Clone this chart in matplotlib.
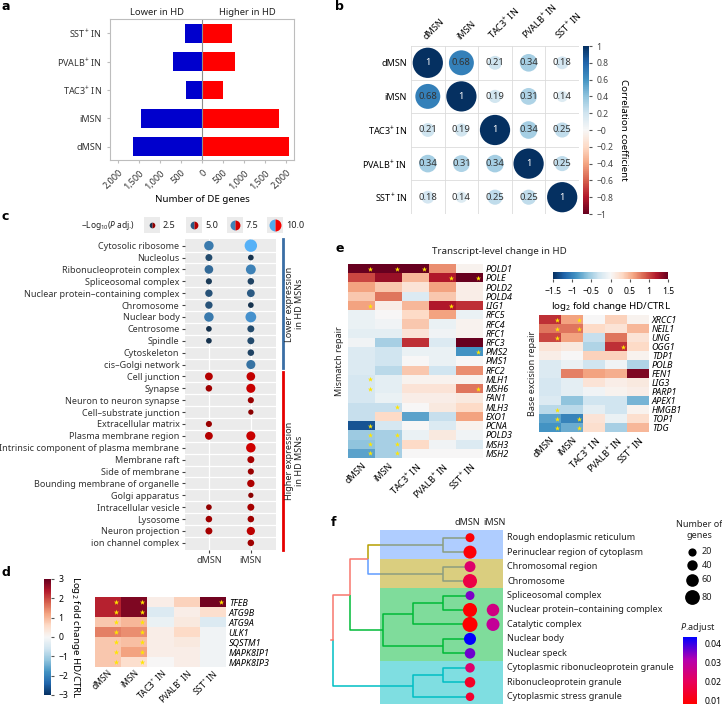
import numpy as np
import matplotlib
matplotlib.use("Agg")
import matplotlib.pyplot as plt
import matplotlib.cm as cm
import matplotlib.transforms as mtransforms
from matplotlib.patches import Circle, Rectangle
from matplotlib.colors import LinearSegmentedColormap, Normalize

plt.rcParams['font.family'] = ['Noto Sans', 'DejaVu Sans']
plt.rcParams['mathtext.fontset'] = 'custom'
plt.rcParams['mathtext.rm'] = 'Noto Sans'
plt.rcParams['mathtext.it'] = 'Noto Sans:italic'
plt.rcParams['font.size'] = 6.5
plt.rcParams['text.color'] = '#222222'
FS = 6.5

# ---------------- data ----------------
cell_types = ["dMSN", "iMSN", "TAC3$^{+}$ IN", "PVALB$^{+}$ IN", "SST$^{+}$ IN"]

# a: number of DE genes
de_lower = [1640, 1460, 380, 690, 400]
de_higher = [2060, 1840, 510, 790, 710]

# b: correlation matrix
corr = np.array([[1.00, 0.68, 0.21, 0.34, 0.18],
                 [0.68, 1.00, 0.19, 0.31, 0.14],
                 [0.21, 0.19, 1.00, 0.34, 0.25],
                 [0.34, 0.31, 0.34, 1.00, 0.25],
                 [0.18, 0.14, 0.25, 0.25, 1.00]])

# c: GO terms, -log10 adj P (nan = not enriched)
go_terms = ["Cytosolic ribosome", "Nucleolus", "Ribonucleoprotein complex", "Spliceosomal complex",
            "Nuclear protein\u2013containing complex", "Chromosome", "Nuclear body", "Centrosome",
            "Spindle", "Cytoskeleton", "cis\u2013Golgi network",
            "Cell junction", "Synapse", "Neuron to neuron synapse", "Cell\u2013substrate junction",
            "Extracellular matrix", "Plasma membrane region", "Intrinsic component of plasma membrane",
            "Membrane raft", "Side of membrane", "Bounding membrane of organelle", "Golgi apparatus",
            "Intracellular vesicle", "Lysosome", "Neuron projection", "ion channel complex"]
n_lower = 11
nan = np.nan
logp_dmsn = [7.0, 4.0, 6.0, 3.0, 4.5, 4.5, 7.0, 2.5, 2.5, nan, nan,
             5.0, 3.5, nan, nan, 3.0, 5.0, nan, nan, nan, nan, nan, 2.5, 3.5, 4.0, nan]
logp_imsn = [10.5, 2.5, 7.5, 3.5, 5.0, 2.5, 8.5, 4.0, 4.0, 3.5, 6.5,
             6.0, 6.5, 3.0, 2.0, nan, 6.5, 7.0, 4.0, 3.0, 4.5, 2.0, 4.0, 3.5, 5.5, 3.5]
legend_logp = [2.5, 5.0, 7.5, 10.0]

# d: autophagy genes log2FC
genes_d = ["TFEB", "ATG9B", "ATG9A", "ULK1", "SQSTM1", "MAPK8IP1", "MAPK8IP3"]
lfc_d = np.array([[2.3, 2.8, 0.2, 0.7, 2.9],
                  [2.3, 2.8, -0.4, 0.2, 0.5],
                  [0.8, 1.0, -0.2, 0.3, -0.4],
                  [1.5, 1.4, 0.2, 0.6, -0.1],
                  [0.8, 0.9, 0.2, 0.3, -0.1],
                  [0.8, 1.2, 0.2, 0.2, -0.1],
                  [0.8, 0.5, 0.0, 0.2, -0.1]])
sig_d = np.array([[1, 1, 0, 0, 1]] + [[1, 1, 0, 0, 0]] * 6)

# e: mismatch repair
genes_mmr = ["POLD1", "POLE", "POLD2", "POLD4", "LIG1", "RFC5", "RFC4", "RFC1", "RFC3", "PMS2", "PMS1",
             "RFC2", "MLH1", "MSH6", "FAN1", "MLH3", "EXO1", "PCNA", "POLD3", "MSH3", "MSH2"]
lfc_mmr = np.array([[1.5, 1.5, 1.5, 0.7, 0.05],
                    [1.0, 1.3, 0.5, 1.2, 1.6],
                    [0.6, 0.4, 0.2, 0.6, 0.1],
                    [0.4, 0.8, -0.2, 0.4, 0.1],
                    [0.6, 0.1, 0.5, 1.2, 1.1],
                    [-0.1, 0.0, 0.3, 0.6, -0.1],
                    [-0.1, -0.05, 0.4, -0.1, 0.05],
                    [-0.15, -0.15, 0.2, -0.05, 0.05],
                    [-0.05, -0.5, 1.1, -0.2, 1.6],
                    [-0.2, -0.3, -0.1, -0.1, -0.9],
                    [-0.2, -0.3, 0.0, -0.1, 0.0],
                    [-0.2, -0.4, 0.4, -0.3, 0.7],
                    [-0.25, -0.15, 0.05, 0.05, 0.05],
                    [-0.25, -0.15, 0.2, 0.2, 0.8],
                    [-0.25, -0.1, 0.1, 0.1, 0.15],
                    [-0.35, -0.35, 0.0, 0.15, 0.3],
                    [-0.35, 0.3, -0.8, -0.35, 0.6],
                    [-1.3, -0.25, 0.0, -0.2, 0.05],
                    [-0.55, -0.5, -0.1, 0.15, -0.05],
                    [-0.6, -0.5, 0.3, -0.05, -0.2],
                    [-0.8, -0.5, 0.0, 0.0, 0.0]])
sig_mmr = np.array([[1, 1, 1, 0, 0], [0, 0, 0, 1, 1], [0, 0, 0, 0, 0], [0, 0, 0, 0, 0],
                    [1, 0, 0, 1, 0], [0, 0, 0, 0, 0], [0, 0, 0, 0, 0], [0, 0, 0, 0, 0],
                    [0, 0, 0, 0, 0], [0, 0, 0, 0, 1], [0, 0, 0, 0, 0], [0, 0, 0, 0, 0],
                    [1, 0, 0, 0, 0], [1, 0, 0, 0, 1], [0, 0, 0, 0, 0], [0, 1, 0, 0, 0],
                    [0, 0, 0, 0, 0], [1, 0, 0, 0, 0], [1, 1, 0, 0, 0], [1, 1, 0, 0, 0],
                    [1, 1, 0, 0, 0]])

# e: base excision repair
genes_ber = ["XRCC1", "NEIL1", "UNG", "OGG1", "TDP1", "POLB", "FEN1", "LIG3", "PARP1", "APEX1",
             "HMGB1", "TOP1", "TDG"]
lfc_ber = np.array([[1.1, 0.6, 0.0, 0.35, 0.05],
                    [0.8, 0.8, 0.3, 0.2, 0.5],
                    [1.0, 0.6, -0.35, 0.8, 0.2],
                    [0.2, 0.15, -0.45, 1.1, 0.3],
                    [0.1, 0.0, 0.35, 0.35, 0.05],
                    [-0.2, -0.1, -0.3, -0.05, -0.45],
                    [-0.2, 0.75, 0.6, 0.55, 1.4],
                    [-0.25, -0.15, 0.2, 0.1, 0.15],
                    [-0.25, -0.15, -0.05, 0.05, 0.1],
                    [-0.2, -0.6, -0.3, -0.3, -0.7],
                    [-0.4, -0.4, -0.15, -0.3, 0.05],
                    [-0.8, -1.0, 0.2, -0.1, 0.25],
                    [-0.9, -0.75, 0.25, -0.5, 0.5]])
sig_ber = np.array([[1, 1, 0, 0, 0], [1, 1, 0, 0, 0], [1, 0, 0, 0, 0], [0, 0, 0, 1, 0],
                    [0, 0, 0, 0, 0], [0, 0, 0, 0, 0], [0, 0, 0, 0, 0], [0, 0, 0, 0, 0],
                    [0, 0, 0, 0, 0], [0, 0, 0, 0, 0], [1, 0, 0, 0, 0], [1, 1, 0, 0, 0],
                    [1, 1, 0, 0, 0]])

# f: GO terms clustered
terms_f = ["Rough endoplasmic reticulum", "Perinuclear region of cytoplasm", "Chromosomal region",
           "Chromosome", "Spliceosomal complex", "Nuclear protein\u2013containing complex",
           "Catalytic complex", "Nuclear body", "Nuclear speck",
           "Cytoplasmic ribonucleoprotein granule", "Ribonucleoprotein granule",
           "Cytoplasmic stress granule"]
count_dmsn = [27, 64, 45, 73, 27, 73, 82, 55, 41, 32, 41, 23]
padj_dmsn = [0.009, 0.009, 0.022, 0.017, 0.035, 0.008, 0.008, 0.043, 0.036, 0.022, 0.013, 0.014]
count_imsn = [nan, nan, nan, nan, nan, 59, 64, nan, nan, nan, nan, nan]
padj_imsn = [nan, nan, nan, nan, nan, 0.025, 0.028, nan, nan, nan, nan, nan]
legend_counts = [20, 40, 60, 80]
# tree merges: (child a, child b, height); leaves 0..11, merges numbered from 12
merges = [(0, 1, 27), (2, 3, 27), (12, 13, 102), (4, 5, 27), (15, 6, 57), (7, 8, 27),
          (16, 17, 87), (14, 18, 120), (9, 10, 27), (20, 11, 57), (19, 21, 137)]
cluster_of_leaf = [0, 0, 1, 1, 2, 2, 2, 2, 2, 3, 3, 3]
cluster_colors = ['#B79F00', '#619CFF', '#00BA38', '#00BFC4']
band_colors = ['#619CFF', '#B79F00', '#00BA38', '#00BFC4']
root_color = '#F8766D'

# ---------------- figure ----------------
W, H = 722, 706
fig = plt.figure(figsize=(W / 100, H / 100), dpi=100)


def px_axes(x0, y0, x1, y1, **kw):
    return fig.add_axes([x0 / W, 1 - y1 / H, (x1 - x0) / W, (y1 - y0) / H], **kw)


def clean(ax):
    for s in ax.spines.values():
        s.set_visible(False)


# ---- a ----
ax = px_axes(110, 19, 294, 160)
y = np.arange(len(cell_types))
ax.barh(y, -np.array(de_lower), height=0.66, color='#0000CD')
ax.barh(y, de_higher, height=0.66, color='#FF0000')
ax.axvline(0, color='#8c8c8c', lw=0.8)
ax.set_xlim(-2190, 2190)
ax.set_ylim(-0.47, 4.5)
ticks = np.arange(-2000, 2001, 500)
ax.set_xticks(ticks)
ax.set_xticklabels([f"{abs(t):,}" for t in ticks], rotation=45, ha='right', va='top',
                   rotation_mode='anchor', fontsize=FS)
ax.set_yticks(y)
ax.set_yticklabels(cell_types, fontsize=FS)
for s in ax.spines.values():
    s.set_color('#bdbdbd')
ax.tick_params(color='#bdbdbd', length=2.5, labelcolor='#333333')
ax.set_xlabel("Number of DE genes", fontsize=FS + 0.5, labelpad=3)
ax.text(-1070, 1.015, "Lower in HD", transform=ax.get_xaxis_transform(), ha='center', va='bottom', fontsize=FS + 0.3)
ax.text(1070, 1.015, "Higher in HD", transform=ax.get_xaxis_transform(), ha='center', va='bottom', fontsize=FS + 0.3)

# ---- b ----
axb = px_axes(411, 46, 579, 214)
cmap_b = plt.get_cmap('RdBu')
norm_b = Normalize(-1, 1)
axb.set_xlim(-0.5, 4.5)
axb.set_ylim(4.5, -0.5)
for k in np.arange(-0.5, 5):
    axb.axhline(k, color='#dcdcdc', lw=0.6, zorder=0)
    axb.axvline(k, color='#dcdcdc', lw=0.6, zorder=0)
for i in range(5):
    for j in range(5):
        r = corr[i, j]
        axb.add_patch(Circle((j, i), 0.45 * np.sqrt(abs(r)), facecolor=cmap_b(norm_b(r)), lw=0, zorder=2))
        axb.text(j, i, f"{r:g}", ha='center', va='center', fontsize=6.8,
                 color='white' if r > 0.9 else '#333333', zorder=3)
axb.set_xticks(range(5))
axb.set_yticks(range(5))
axb.xaxis.tick_top()
axb.set_xticklabels(cell_types, rotation=45, ha='left', va='bottom', rotation_mode='anchor', fontsize=FS)
axb.set_yticklabels(cell_types, fontsize=FS)
axb.tick_params(length=0, pad=3)
clean(axb)
caxb = px_axes(583, 46, 589, 214)
cbb = fig.colorbar(cm.ScalarMappable(norm_b, cmap_b), cax=caxb)
cb_ticks = np.round(np.arange(-1, 1.01, 0.2), 1)
cbb.set_ticks(cb_ticks)
cbb.set_ticklabels([f"{t:g}".replace('-', '\u2212') for t in cb_ticks])
cbb.outline.set_visible(False)
caxb.tick_params(labelsize=6.2, length=2, color='#555555', labelcolor='#444444')
cbb.set_label("Correlation coefficient", rotation=270, fontsize=FS + 0.5, labelpad=10)

# ---- c ----
axc = px_axes(185, 239, 276, 550)
axc.set_facecolor('#ebebeb')
n = len(go_terms)
rows = np.arange(n)
cmap_lo = LinearSegmentedColormap.from_list('lo', ['#132B43', '#56B1F7'])
cmap_hi = LinearSegmentedColormap.from_list('hi', ['#8B0000', '#FF0000'])
norm_c = Normalize(2.0, 10.5)


def c_size(v):
    d = 3.6 + 0.84 * np.asarray(v, dtype=float)
    return (d * 0.72) ** 2


for k in np.arange(0.5, n - 1, 1):
    axc.axhline(k, color='white', lw=0.9, zorder=0)
for xv in [0, 1]:
    axc.axvline(xv, color='white', lw=0.9, zorder=0)
for col, vals in enumerate([logp_dmsn, logp_imsn]):
    vals = np.array(vals, dtype=float)
    ok = ~np.isnan(vals)
    colors = [cmap_lo(norm_c(v)) if r < n_lower else cmap_hi(norm_c(v)) for r, v in zip(rows[ok], vals[ok])]
    axc.scatter(np.full(ok.sum(), col), rows[ok], s=c_size(vals[ok]), c=colors, lw=0, zorder=3)
axc.set_xlim(-0.57, 1.6)
axc.set_ylim(n - 0.4, -0.56)
axc.set_xticks([0, 1])
axc.set_xticklabels(["dMSN", "iMSN"], fontsize=FS)
axc.set_yticks(rows)
axc.set_yticklabels(go_terms, fontsize=FS)
axc.tick_params(length=2, color='#444444', labelcolor='#333333', pad=2)
clean(axc)
btr = mtransforms.blended_transform_factory(axc.transAxes, axc.transData)
axc.plot([1.077, 1.077], [-0.56, n_lower - 0.7], color='#3A6EA5', lw=2, transform=btr, clip_on=False)
axc.plot([1.077, 1.077], [n_lower - 0.4, n - 0.4], color='#E60000', lw=2, transform=btr, clip_on=False)
axc.text(1.2, (n_lower - 1.2) / 2, "Lower expression\nin HD MSNs", rotation=90, transform=btr,
         ha='center', va='center', fontsize=FS, linespacing=1.1)
axc.text(1.2, (n_lower + n - 0.8) / 2, "Higher expression\nin HD MSNs", rotation=90, transform=btr,
         ha='center', va='center', fontsize=FS, linespacing=1.1)

# ---- d ----
axd = px_axes(95, 597, 226, 667)


def heat(ax, vals, rows_lab, sig, vmax, dx, star_s, col_fs=FS):
    im = ax.imshow(vals, cmap='RdBu_r', vmin=-vmax, vmax=vmax, aspect='auto', interpolation='nearest')
    rr, cc = np.nonzero(sig)
    ax.scatter(cc + dx, rr, marker='*', s=star_s, color='#FFE600', linewidths=0, zorder=3)
    ax.set_yticks(range(len(rows_lab)))
    ax.set_yticklabels(rows_lab, style='italic', fontsize=FS)
    ax.yaxis.tick_right()
    ax.set_xticks(range(5))
    ax.set_xticklabels(cell_types, rotation=45, ha='right', va='top', rotation_mode='anchor', fontsize=col_fs)
    ax.tick_params(length=0, pad=2)
    clean(ax)
    return im


im_d = heat(axd, lfc_d, genes_d, sig_d, 3, 0.3, 16, col_fs=6.1)
axd.tick_params(axis='x', pad=1)
caxd = px_axes(44, 579, 51, 695)
cbd = fig.colorbar(im_d, cax=caxd)
cbd.set_ticks(range(-3, 4))
cbd.set_ticklabels([str(t).replace('-', '\u2212') for t in range(-3, 4)])
cbd.outline.set_visible(False)
caxd.tick_params(labelsize=6.2, length=2, color='#555555')
cbd.set_label("Log$_2$ fold change HD/CTRL", rotation=270, fontsize=FS + 0.5, labelpad=10)

# ---- e ----
axe1 = px_axes(348, 264, 483, 458)
im_e = heat(axe1, lfc_mmr, genes_mmr, sig_mmr, 1.5, 0.33, 15)
axe1.text(-0.06, 0.5, "Mismatch repair", rotation=90, transform=axe1.transAxes, ha='center', va='center', fontsize=FS)
axe2 = px_axes(539, 315, 649, 432)
heat(axe2, lfc_ber, genes_ber, sig_ber, 1.5, 0.3, 15)
axe2.text(-0.055, 0.5, "Base excision repair", rotation=90, transform=axe2.transAxes, ha='center', va='center', fontsize=FS)
caxe = px_axes(553, 272, 668, 279)
cbe = fig.colorbar(im_e, cax=caxe, orientation='horizontal')
e_ticks = [-1.5, -1, -0.5, 0, 0.5, 1, 1.5]
cbe.set_ticks(e_ticks)
cbe.set_ticklabels([f"{t:g}".replace('-', '\u2212') for t in e_ticks])
cbe.outline.set_visible(False)
caxe.tick_params(labelsize=6.2, length=2, color='#555555')
cbe.set_label("log$_2$ fold change HD/CTRL", fontsize=FS + 0.5, labelpad=3)

# ---- f ----
axf = px_axes(305, 530, 503, 704)
axf.set_xlim(-165, 33)
axf.set_ylim(len(terms_f) - 0.5, -0.53)
axf.axis('off')
# node positions
node_x = {i: 0.0 for i in range(len(terms_f))}
node_y = {i: float(i) for i in range(len(terms_f))}
node_c = {i: cluster_colors[c] for i, c in enumerate(cluster_of_leaf)}
for m, (a, b, h) in enumerate(merges):
    nid = len(terms_f) + m
    node_x[nid] = -h
    node_y[nid] = (node_y[a] + node_y[b]) / 2
    node_c[nid] = node_c[a] if node_c[a] == node_c[b] else root_color
for m, (a, b, h) in enumerate(merges):
    nid = len(terms_f) + m
    for ch in (a, b):
        axf.plot([node_x[nid], node_x[nid], node_x[ch]], [node_y[nid], node_y[ch], node_y[ch]],
                 color=node_c[ch], lw=1.1, solid_capstyle='butt', zorder=1)
root = len(terms_f) + len(merges) - 1
axf.plot([node_x[root] - 2, node_x[root]], [node_y[root], node_y[root]], color=root_color, lw=1.1, zorder=1)
# bands
starts = [0, 2, 4, 9]
ends = [1, 3, 8, 11]
for s0, e0, bc in zip(starts, ends, band_colors):
    axf.add_patch(Rectangle((-90, s0 - 0.5), 123, e0 - s0 + 1, facecolor=bc, alpha=0.5, lw=0, zorder=2))
cmap_f = LinearSegmentedColormap.from_list('padj', ['#FF0000', '#E8005A', '#B400B0', '#0000FF'])
norm_f = Normalize(0.0079, 0.0432)


def f_size(nv):
    d = 6 + 0.11 * np.asarray(nv, dtype=float)
    return (d * 0.72) ** 2


for xcol, cnt, pv in [(0, count_dmsn, padj_dmsn), (23, count_imsn, padj_imsn)]:
    cnt = np.array(cnt, dtype=float)
    pv = np.array(pv, dtype=float)
    ok = ~np.isnan(cnt)
    axf.scatter(np.full(ok.sum(), xcol), np.arange(len(terms_f))[ok], s=f_size(cnt[ok]),
                c=pv[ok], cmap=cmap_f, norm=norm_f, lw=0, zorder=4)
for i, t in enumerate(terms_f):
    axf.text(37, i, t, ha='left', va='center', fontsize=FS, clip_on=False)
axf.text(10.5, -0.75, "dMSN", ha='right', va='bottom', fontsize=FS)
axf.text(13, -0.75, "iMSN", ha='left', va='bottom', fontsize=FS)
caxf = px_axes(683, 637, 697, 704)
cbf = fig.colorbar(cm.ScalarMappable(norm_f, cmap_f), cax=caxf)
cbf.set_ticks([0.01, 0.02, 0.03, 0.04])
cbf.outline.set_visible(False)
caxf.tick_params(labelsize=6.2, length=2, color='white')

# ---- overlay (panel letters, legends) ----
ao = fig.add_axes([0, 0, 1, 1], zorder=10)
ao.set_xlim(0, W)
ao.set_ylim(H, 0)
ao.axis('off')
ao.patch.set_alpha(0)
for lab, (lx, ly) in zip("abcdef", [(1, 7), (335, 7), (1, 217), (1, 572), (335, 248), (331, 523)]):
    ao.text(lx, ly, lab, fontsize=9, fontweight='bold', family='DejaVu Sans', ha='left', va='center',
            color='black')
ao.text(499, 252, "Transcript-level change in HD", ha='center', va='center', fontsize=FS + 0.5)
# c legend
ao.text(135, 225, "$-$Log$_{10}$($P$ adj.)", ha='right', va='center', fontsize=6)
for v, kx in zip(legend_logp, [152, 194, 235, 275]):
    ao.add_patch(Rectangle((kx - 8, 225 - 8), 16, 16, facecolor='#ebebeb', lw=0))
    dpx = 3.6 + 0.84 * v
    ao.plot([kx], [225], marker='o', ms=dpx * 0.72, fillstyle='left', markerfacecolor=cmap_lo(norm_c(v)),
            markerfacecoloralt=cmap_hi(norm_c(v)), markeredgewidth=0, ls='none')
    ao.text(kx + 11, 225, f"{v:.1f}", ha='left', va='center', fontsize=FS)
# f legends
ao.text(699, 530, "Number of\ngenes", ha='center', va='center', fontsize=FS, linespacing=1.2)
for cnt, ly in zip(legend_counts, [552, 565, 580, 597]):
    ao.scatter([692], [ly], s=f_size(cnt), color='black', lw=0)
    ao.text(702, ly, str(cnt), ha='left', va='center', fontsize=FS)
ao.text(698, 628, "$P$.adjust", ha='center', va='center', fontsize=FS)

fig.savefig("out.png", dpi=100)
